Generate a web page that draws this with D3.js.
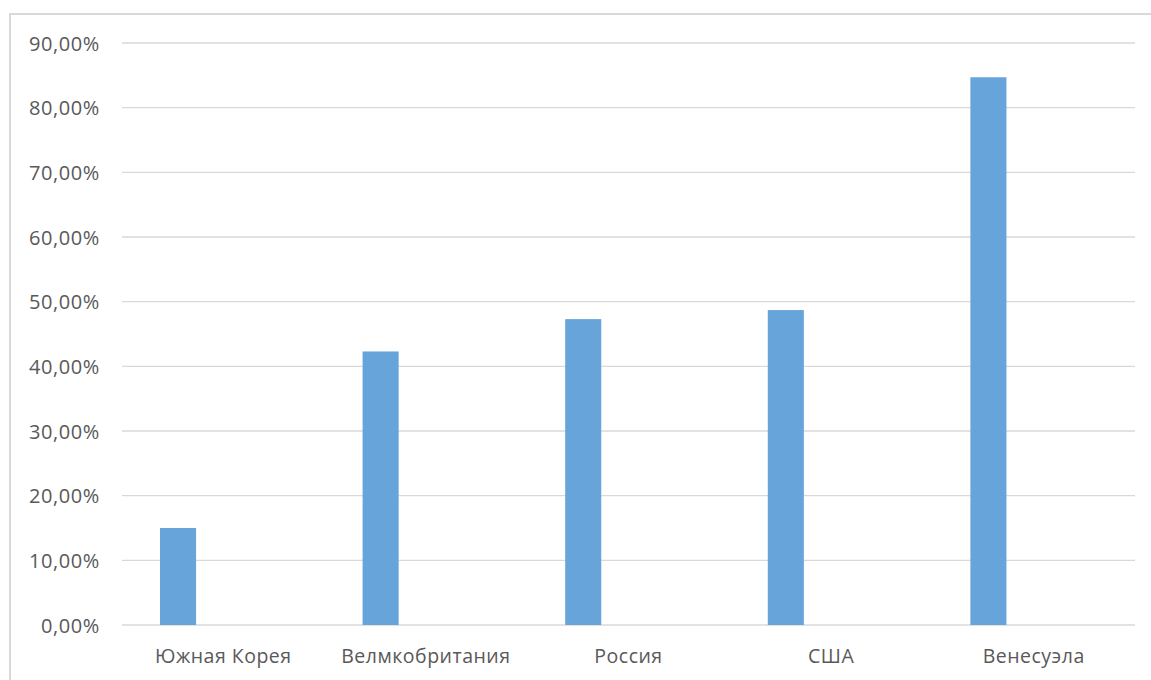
<!DOCTYPE html>
<html>
<head>
<meta charset="utf-8">
<script src="https://cdn.jsdelivr.net/npm/d3@7"></script>
<style>
  body { margin: 0; background: #fff; }
  text { font-family: "Open Sans", "Noto Sans", sans-serif; fill: #595959; }
</style>
</head>
<body>
<div id="graph1"></div>
<script>
const countries = ["Южная Корея", "Велмкобритания", "Россия", "США", "Венесуэла"]
const shares = [0.15, 0.423, 0.473, 0.487, 0.847]
const yTicks = [0, 0.1, 0.2, 0.3, 0.4, 0.5, 0.6, 0.7, 0.8, 0.9]

const width = 1151, height = 680
const margin = {left: 122, right: 16, top: 43, bottom: 55}

let svg = d3.select("#graph1")
    .append("svg")
    .attr("width", width)
    .attr("height", height)

// chart area frame
svg.append("rect")
    .attr("x", 10).attr("y", 14)
    .attr("width", width + 10).attr("height", height + 10)
    .attr("fill", "none")
    .attr("stroke", "#d9d9d9")
    .attr("stroke-width", 2)

let g = svg.append("g")
    .attr("transform", `translate(${margin.left}, ${margin.top})`)

let plotW = width - margin.left - margin.right   // gridlines end near x=1135
let plotH = 625 - margin.top

let x = d3.scaleBand()
    .domain(countries)
    .range([0, plotW])

let y = d3.scaleLinear()
    .domain([0, 0.9])
    .range([plotH, 0])

const fmt = v => d3.format(".2f")(v * 100).replace(".", ",") + "%"

// gridlines
g.append("g")
    .selectAll("line")
    .data(yTicks)
    .enter()
    .append("line")
    .attr("x1", 0)
    .attr("x2", plotW)
    .attr("y1", d => y(d))
    .attr("y2", d => y(d))
    .attr("stroke", "#d9d9d9")
    .attr("stroke-width", 1.3)

// y axis labels
let yAxis = g.append("g")
    .call(d3.axisLeft(y).tickValues(yTicks).tickFormat(fmt).tickSize(0).tickPadding(22))
yAxis.select(".domain").remove()
yAxis.selectAll("text")
    .style("font-size", "20px")
    .style("letter-spacing", "0.6px")
    .attr("fill", "#595959")
    .attr("dy", "0.36em")

// bars (first of two series slots, second is empty)
g.selectAll("rect.bar")
    .data(shares)
    .enter()
    .append("rect")
    .attr("class", "bar")
    .attr("fill", "#66a4da")
    .attr("x", (d, i) => x(countries[i]) + x.bandwidth() * 0.1875)
    .attr("width", x.bandwidth() * 0.178)
    .attr("y", d => y(d))
    .attr("height", d => y(0) - y(d))

// x axis labels
let xAxis = g.append("g")
    .attr("transform", `translate(0, ${y(0)})`)
    .call(d3.axisBottom(x).tickSize(0).tickPadding(24))
xAxis.select(".domain").remove()
xAxis.selectAll("text")
    .style("font-size", "19.5px")
    .style("letter-spacing", "0.5px")
    .attr("fill", "#595959")
</script>
</body>
</html>
